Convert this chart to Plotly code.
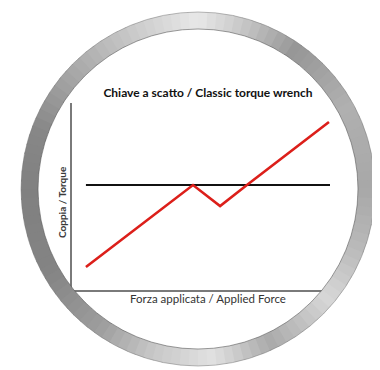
import math
import plotly.graph_objects as go

# ---- data (arbitrary 0-100 units) ----
force = [5.4, 46.9, 57.4, 67.8, 99.6]
torque = [12.3, 56.1, 44.9, 56.1, 89.8]
threshold_x = [5.4, 100]
threshold_y = [56.1, 56.1]

title_text = "Chiave a scatto / Classic torque wrench"
x_title = "Forza applicata / Applied Force"
y_title = "Coppia / Torque"

# page body has an 8px default margin; shrink the figure to fit the window
OFF = 8
W, H = 380 - OFF, 370 - OFF
L, R, T, B = 72, 330, 103, 290  # plot area in window pixels


def px(X):
    return (X - L) / (R - L)


def py(Y):
    return (B - Y) / (B - T)


# ---- metallic ring decoration ----
cx, cy = 198, 189
r_in, r_out = 160, 177
stops = [
    (0, 168), (30, 176), (55, 150), (75, 200), (90, 232), (110, 205),
    (135, 170), (160, 135), (180, 128), (210, 132), (235, 158),
    (255, 200), (275, 225), (295, 170), (320, 215), (340, 185), (360, 168),
]


def gray_at(a):
    for (a0, g0), (a1, g1) in zip(stops, stops[1:]):
        if a0 <= a <= a1:
            t = (a - a0) / (a1 - a0)
            return int(round(g0 + t * (g1 - g0)))
    return stops[-1][1]


shapes = []
n = 120
for i in range(n):
    a0 = 360 * i / n
    a1 = 360 * (i + 1) / n + 0.6
    pts = []
    for a, r in [(a0, r_out), (a1, r_out), (a1, r_in), (a0, r_in)]:
        rad = math.radians(a)
        X = cx + r * math.cos(rad)
        Y = cy - r * math.sin(rad)
        pts.append((px(X), py(Y)))
    path = "M {:.5f},{:.5f} L {:.5f},{:.5f} L {:.5f},{:.5f} L {:.5f},{:.5f} Z".format(
        *pts[0], *pts[1], *pts[2], *pts[3])
    g = gray_at((a0 + 360 / n / 2) % 360)
    shapes.append(dict(type="path", xref="paper", yref="paper", path=path,
                       fillcolor=f"rgb({g},{g},{g})", line=dict(width=0),
                       layer="above"))

shapes.append(dict(type="circle", xref="paper", yref="paper",
                   x0=px(cx - r_in), x1=px(cx + r_in),
                   y0=py(cy + r_in), y1=py(cy - r_in),
                   line=dict(color="rgba(90,90,90,0.6)", width=1), layer="above"))
shapes.append(dict(type="circle", xref="paper", yref="paper",
                   x0=px(cx - r_out), x1=px(cx + r_out),
                   y0=py(cy + r_out), y1=py(cy - r_out),
                   line=dict(color="rgba(120,120,120,0.5)", width=1), layer="above"))

fig = go.Figure()
fig.add_trace(go.Scatter(x=threshold_x, y=threshold_y, mode="lines",
                         line=dict(color="#111111", width=2), hoverinfo="skip"))
fig.add_trace(go.Scatter(x=force, y=torque, mode="lines",
                         line=dict(color="#dc1f1a", width=2.6), hoverinfo="skip"))

axis_common = dict(showgrid=False, zeroline=False, showticklabels=False, ticks="",
                   showline=True, linecolor="#7a7a7a", linewidth=1.5,
                   range=[0, 100], fixedrange=True)
fig.update_xaxes(**axis_common)
fig.update_yaxes(**axis_common)

fig.update_layout(
    width=W, height=H,
    margin=dict(l=L - OFF, r=380 - R, t=T - OFF, b=370 - B),
    paper_bgcolor="white", plot_bgcolor="white",
    showlegend=False,
    title=dict(text=title_text, x=(208 - OFF) / W, xanchor="center",
               y=1 - (93 - OFF) / H, yanchor="middle", yref="container",
               font=dict(family="Lato", size=12, color="#111111", weight="bold")),
    shapes=shapes,
    annotations=[
        dict(text=x_title, xref="paper", yref="paper", x=px(208), y=py(298),
             xanchor="center", yanchor="middle", showarrow=False,
             font=dict(family="Lato", size=11.5, color="#333333")),
        dict(text=y_title, xref="paper", yref="paper", x=px(62), y=py(202),
             xanchor="center", yanchor="middle", showarrow=False, textangle=-90,
             font=dict(family="Lato", size=10, color="#3a3a3a", weight="bold")),
    ],
)

fig.write_html("out.html")
